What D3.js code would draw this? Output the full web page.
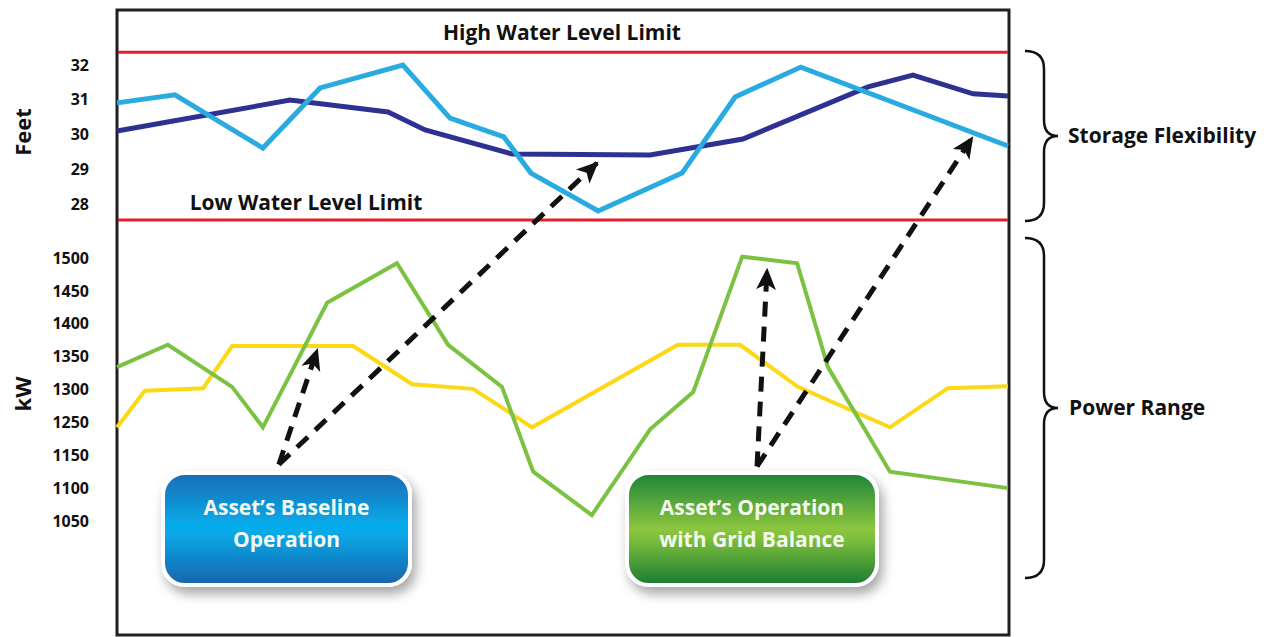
<!DOCTYPE html>
<html>
<head>
<meta charset="utf-8">
<script src="https://cdn.jsdelivr.net/npm/d3@7/dist/d3.min.js"></script>
<style>
  html, body { margin: 0; padding: 0; background: #ffffff; }
  svg { display: block; }
  text { font-family: "Open Sans", "DejaVu Sans", sans-serif; }
</style>
</head>
<body>
<svg id="chart" width="1266" height="637"></svg>
<script>
// ---- Data -------------------------------------------------------------
// Hours of the day for each vertex, and the reading at that vertex.

// Reservoir level (feet), baseline operation
const levelBaseHours = [0, 1.56, 3.93, 5.47, 7.70, 8.97, 10.42, 11.15, 12.96, 15.22, 16.65, 18.42, 24];
const levelBaseFeet  = [30.91, 31.14, 29.61, 31.34, 32.0, 30.47, 29.93, 28.89, 27.80, 28.89, 31.08, 31.94, 29.67];

// Reservoir level (feet), operation with grid balance
const levelGridHours = [0, 4.66, 7.30, 8.30, 10.64, 14.36, 16.86, 20.23, 21.44, 23.06, 24];
const levelGridFeet  = [30.10, 30.99, 30.65, 30.13, 29.44, 29.41, 29.87, 31.37, 31.71, 31.17, 31.11];

// Power (kW), baseline operation
const powerBaseHours = [0, 0.75, 2.32, 3.10, 6.36, 7.95, 9.59, 11.18, 15.11, 16.78, 18.34, 20.82, 22.38, 24];
const powerBaseKw    = [1235, 1298, 1302, 1366, 1366, 1308, 1301, 1235, 1368, 1368, 1304, 1235, 1302, 1305];

// Power (kW), operation with grid balance
const powerGridHours = [0, 1.37, 3.10, 3.93, 5.66, 7.54, 8.92, 10.37, 11.21, 12.79, 14.36, 15.52, 16.84, 18.32, 19.15, 20.82, 24];
const powerGridKw    = [1334, 1368, 1304, 1235, 1432, 1492, 1368, 1304, 1125, 1059, 1229, 1296, 1502, 1492, 1334, 1125, 1100];

// Water level limits (feet)
const highWaterLimit = 32.37;
const lowWaterLimit  = 27.54;

// Axis tick labels
const feetTicks = [28, 29, 30, 31, 32];
const kwTicks   = [1050, 1100, 1150, 1250, 1300, 1350, 1400, 1450, 1500];

// Annotation arrows: [startHour, startKw] -> [endHour, endValue, endAxis]
const arrowStarts = [[4.36, 1136], [4.36, 1136], [17.24, 1133], [17.24, 1133]];
const arrowEnds   = [[5.39, 1360, "kw"], [12.93, 29.18, "ft"], [17.51, 1482, "kw"], [23.03, 29.90, "ft"]];

// Callout boxes
const calloutLines = [["Asset\u2019s Baseline", "Operation"], ["Asset\u2019s Operation", "with Grid Balance"]];

// ---- Layout -----------------------------------------------------------
const frame = { left: 117, top: 10, right: 1009, bottom: 635 };
const feetRange = [204, 65];        // pixel rows for 28 ft and 32 ft
const kwTop = 258, kwBottom = 521;  // pixel rows for first/last kW tick
const labelSize = 21;

const svg = d3.select("#chart");
const defs = svg.append("defs");

const x = d3.scaleLinear().domain([0, 24]).range([frame.left, frame.right - 1]);
const yFt = d3.scaleLinear().domain([28, 32]).range(feetRange);
const kwStep = (kwBottom - kwTop) / (kwTicks.length - 1);
const yKw = d3.scaleLinear()
  .domain(kwTicks)
  .range(kwTicks.map((d, i) => kwBottom - i * kwStep));

// ---- Defs: gradients, shadow, arrowhead -------------------------------
const shadow = defs.append("filter").attr("id", "boxShadow")
  .attr("x", "-20%").attr("y", "-20%").attr("width", "150%").attr("height", "160%");
shadow.append("feDropShadow").attr("dx", 4).attr("dy", 7).attr("stdDeviation", 6)
  .attr("flood-color", "#000").attr("flood-opacity", 0.35);

function vGradient(id, stops) {
  const g = defs.append("linearGradient").attr("id", id)
    .attr("x1", 0).attr("y1", 0).attr("x2", 0).attr("y2", 1);
  stops.forEach(([o, c]) => g.append("stop").attr("offset", o).attr("stop-color", c));
}
vGradient("blueFill", [["0%", "#1b6cb3"], ["48%", "#05adec"], ["58%", "#0da3e3"], ["100%", "#1563ab"]]);
vGradient("greenFill", [["0%", "#1b8438"], ["50%", "#8cc63f"], ["60%", "#7bbd3c"], ["100%", "#197a32"]]);

defs.append("marker").attr("id", "arrowHead")
  .attr("viewBox", "0 0 20 20").attr("refX", 18).attr("refY", 10)
  .attr("markerWidth", 22).attr("markerHeight", 22)
  .attr("markerUnits", "userSpaceOnUse").attr("orient", "auto")
  .append("path").attr("d", "M0,1 L20,10 L0,19 L5,10 Z").attr("fill", "#111");

// ---- Frame ------------------------------------------------------------
svg.append("rect")
  .attr("x", frame.left).attr("y", frame.top)
  .attr("width", frame.right - frame.left).attr("height", frame.bottom - frame.top)
  .attr("fill", "none").attr("stroke", "#231f20").attr("stroke-width", 3);

// ---- Water level limits ----------------------------------------------
[highWaterLimit, lowWaterLimit].forEach(v => {
  svg.append("line")
    .attr("x1", frame.left + 1).attr("x2", frame.right - 1)
    .attr("y1", yFt(v)).attr("y2", yFt(v))
    .attr("stroke", "#e31e2d").attr("stroke-width", 3);
});
svg.append("text").attr("x", 562).attr("y", yFt(highWaterLimit) - 12)
  .attr("text-anchor", "middle").attr("font-size", labelSize).attr("font-weight", 700)
  .attr("fill", "#111").text("High Water Level Limit");
svg.append("text").attr("x", 306).attr("y", yFt(lowWaterLimit) - 10)
  .attr("text-anchor", "middle").attr("font-size", labelSize).attr("font-weight", 700)
  .attr("fill", "#111").text("Low Water Level Limit");

// ---- Axes -------------------------------------------------------------
function styleAxis(g) {
  g.select(".domain").remove();
  g.selectAll(".tick line").remove();
  g.selectAll(".tick text")
    .attr("font-family", "\"Open Sans\", sans-serif")
    .attr("font-size", 16).attr("font-weight", 700).attr("fill", "#111");
}
svg.append("g").attr("transform", "translate(93,0)")
  .call(d3.axisLeft(yFt).tickValues(feetTicks).tickSize(0).tickPadding(4).tickFormat(d3.format("d")))
  .call(styleAxis);
svg.append("g").attr("transform", "translate(93,0)")
  .call(d3.axisLeft(yKw).tickValues(kwTicks).tickSize(0).tickPadding(4).tickFormat(d3.format("d")))
  .call(styleAxis);

svg.append("text").attr("transform", `translate(31,132) rotate(-90)`)
  .attr("text-anchor", "middle").attr("font-size", 22).attr("font-weight", 700)
  .attr("fill", "#111").text("Feet");
svg.append("text").attr("transform", `translate(31,394) rotate(-90)`)
  .attr("text-anchor", "middle").attr("font-size", 22).attr("font-weight", 700)
  .attr("fill", "#111").text("kW");

// ---- Series lines -----------------------------------------------------
function drawSeries(hours, values, yScale, color, width) {
  const pts = hours.map((h, i) => [h, values[i]]);
  svg.append("path").datum(pts)
    .attr("fill", "none").attr("stroke", color).attr("stroke-width", width)
    .attr("stroke-linejoin", "miter")
    .attr("d", d3.line().x(d => x(d[0])).y(d => yScale(d[1])));
}
drawSeries(powerBaseHours, powerBaseKw, yKw, "#fcd816", 4);
drawSeries(powerGridHours, powerGridKw, yKw, "#7cc242", 4);
drawSeries(levelGridHours, levelGridFeet, yFt, "#2e3192", 5);
drawSeries(levelBaseHours, levelBaseFeet, yFt, "#29abe2", 5);

// ---- Dashed annotation arrows ----------------------------------------
arrowStarts.forEach((s, i) => {
  const e = arrowEnds[i];
  const yEnd = e[2] === "ft" ? yFt(e[1]) : yKw(e[1]);
  svg.append("line")
    .attr("x1", x(s[0])).attr("y1", yKw(s[1]))
    .attr("x2", x(e[0])).attr("y2", yEnd)
    .attr("stroke", "#111").attr("stroke-width", 5)
    .attr("stroke-dasharray", "15,10")
    .attr("marker-end", "url(#arrowHead)");
});

// ---- Callout boxes ----------------------------------------------------
const boxes = [
  { x0: 163, x1: 410, fill: "url(#blueFill)", lines: calloutLines[0] },
  { x0: 627, x1: 877, fill: "url(#greenFill)", lines: calloutLines[1] }
];
const boxTop = 473, boxBottom = 585;
boxes.forEach(b => {
  const g = svg.append("g");
  g.append("rect")
    .attr("x", b.x0).attr("y", boxTop)
    .attr("width", b.x1 - b.x0).attr("height", boxBottom - boxTop)
    .attr("rx", 22).attr("ry", 22)
    .attr("fill", b.fill).attr("stroke", "#ffffff").attr("stroke-width", 4)
    .attr("filter", "url(#boxShadow)");
  b.lines.forEach((t, i) => {
    g.append("text")
      .attr("x", (b.x0 + b.x1) / 2).attr("y", 515 + i * 32)
      .attr("text-anchor", "middle").attr("font-size", labelSize).attr("font-weight", 700)
      .attr("fill", "#f4f8ee").text(t);
  });
});

// ---- Braces and range labels -----------------------------------------
function brace(xLeft, xTip, yTop, yBot) {
  const xs = xLeft + 19, ym = (yTop + yBot) / 2;
  return `M${xLeft},${yTop} Q${xs},${yTop} ${xs},${yTop + 18} L${xs},${ym - 16}` +
         ` Q${xs},${ym} ${xTip},${ym} Q${xs},${ym} ${xs},${ym + 16}` +
         ` L${xs},${yBot - 18} Q${xs},${yBot} ${xLeft},${yBot}`;
}
svg.append("path").attr("d", brace(1025, 1058, 51, 221))
  .attr("fill", "none").attr("stroke", "#111").attr("stroke-width", 2.5);
svg.append("path").attr("d", brace(1025, 1058, 238, 578))
  .attr("fill", "none").attr("stroke", "#111").attr("stroke-width", 2.5);

svg.append("text").attr("x", 1068).attr("y", 143)
  .attr("font-size", labelSize).attr("font-weight", 700).attr("fill", "#111")
  .text("Storage Flexibility");
svg.append("text").attr("x", 1069).attr("y", 415)
  .attr("font-size", labelSize).attr("font-weight", 700).attr("fill", "#111")
  .text("Power Range");
</script>
</body>
</html>
